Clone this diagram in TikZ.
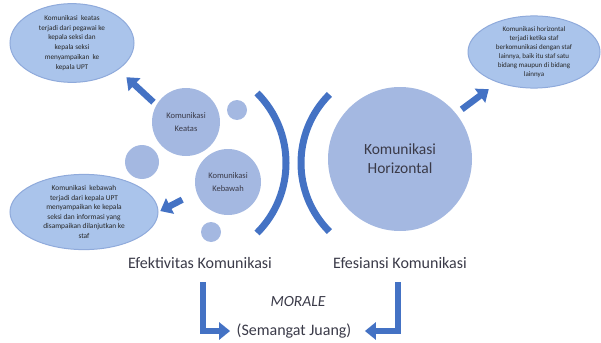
\documentclass[tikz,border=0pt]{standalone}
\usepackage{fontspec}
\setmainfont{Carlito}
\usetikzlibrary{shapes.geometric,arrows.meta}
\definecolor{bubblefill}{HTML}{A4B8E1}
\definecolor{cloudfill}{HTML}{AAC4EB}
\definecolor{cloudedge}{HTML}{8FAADB}
\definecolor{arrowblue}{HTML}{4472C4}
\definecolor{inktext}{HTML}{3A3A48}
\tikzset{
  bubble/.style={circle,fill=bubblefill,inner sep=0pt,text=inktext,align=center},
  cloudnote/.style={ellipse,fill=cloudfill,draw=cloudedge,line width=1pt,inner sep=0pt,align=center,text=black!85},
  blockarrow/.style={draw=arrowblue,line width=6.5pt,-{Triangle[width=17pt,length=11pt]}},
  bracketarc/.style={draw=arrowblue,line width=7pt},
  caption/.style={font=\fontsize{16}{19}\selectfont,text=inktext}
}
\begin{document}
\begin{tikzpicture}[x=1pt,y=-1pt]
      \useasboundingbox (0,0) rectangle (601,342);

      % Draw the notes
      \node[cloudnote,minimum width=124,minimum height=76,font=\fontsize{7.2}{9.9}\selectfont] (upnote) at (72,43)
        {Komunikasi\ \ keatas\\terjadi dari pegawai ke\\kepala seksi dan\\kepala seksi\\menyampaikan\ \ ke\\kepala UPT};
      \node[cloudnote,minimum width=148,minimum height=60,font=\fontsize{7.4}{9.6}\selectfont] (downnote) at (84,212)
        {Komunikasi\ \ kebawah\\terjadi dari kepala UPT\\menyampaikan ke kepala\\seksi dan informasi yang\\disampaikan dilanjutkan ke\\staf};
      \node[cloudnote,minimum width=132,minimum height=60,font=\fontsize{7}{9}\selectfont] (hornote) at (534,52)
        {Komunikasi horizontal\\terjadi ketika staf\\berkomunikasi dengan staf\\lainnya, baik itu staf satu\\bidang maupun di bidang\\lainnya};

      % Draw the circles
      \node[bubble,minimum size=68,font=\fontsize{8.5}{13}\selectfont] (keatas) at (186,122) {Komunikasi\\Keatas};
      \node[bubble,minimum size=66,font=\fontsize{8.5}{13}\selectfont] (kebawah) at (228,182) {Komunikasi\\Kebawah};
      \node[bubble,minimum size=144,font=\fontsize{15.5}{19}\selectfont] (horizontal) at (400,159) {Komunikasi\\Horizontal};
      \node[bubble,minimum size=20] (dotA) at (237,110) {};
      \node[bubble,minimum size=34] (dotB) at (142,162) {};
      \node[bubble,minimum size=20] (dotC) at (211,232) {};

      % Draw the brackets
      \draw[bracketarc] (187,163) ++(-45:99) arc[start angle=-45,end angle=45,radius=99];
      \draw[bracketarc] (398,163) ++(135:97) arc[start angle=135,end angle=225,radius=97];

      % Draw the arrows to the notes
      \draw[blockarrow,shorten <=4pt,shorten >=11pt] (keatas.150) -- (upnote.-30);
      \draw[blockarrow,shorten <=16pt,shorten >=2pt] (kebawah.198) -- (downnote.east);
      \draw[blockarrow,shorten <=7pt,shorten >=11pt] (horizontal.39) -- (hornote.220);

      % Draw the captions
      \node[caption] (efektif) at (200,263) {Efektivitas Komunikasi};
      \node[caption] (efisien) at (400,263) {Efesiansi Komunikasi};
      \node[caption,font=\fontsize{15.5}{19}\itshape] (morale) at (298,302) {MORALE};
      \node[caption] (juang) at (294,331) {(Semangat Juang)};

      % Draw the elbow arrows
      \draw[blockarrow,shorten <=10pt,shorten >=3pt] ([xshift=3pt]efektif.south) |- (juang.west);
      \draw[blockarrow,shorten <=10pt,shorten >=10pt] ([xshift=-2pt]efisien.south) |- (juang.east);
    \end{tikzpicture}
\end{document}
